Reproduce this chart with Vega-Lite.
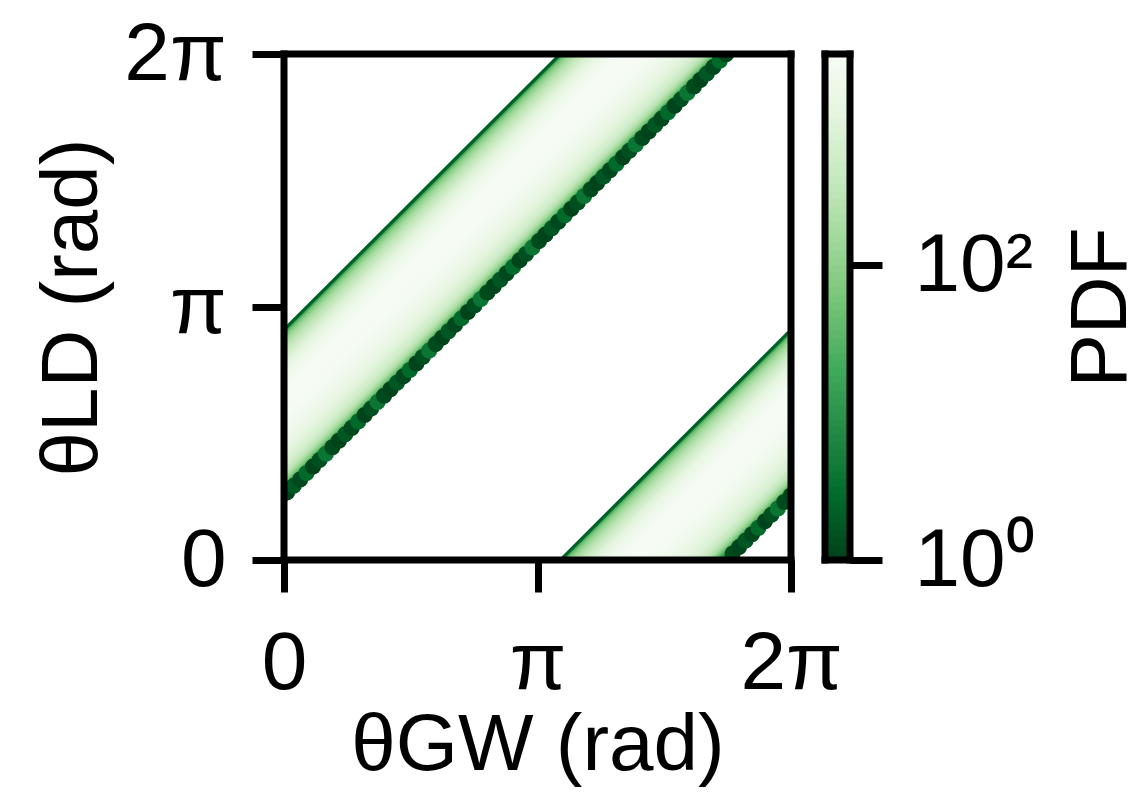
{
  "$schema": "https://vega.github.io/schema/vega-lite/v6.json",
  "autosize": {"type": "pad"},
  "padding": {"left": 32, "top": 13, "right": 0, "bottom": 5},
  "bounds": "flush",
  "spacing": 34,
  "config": {
    "view": {"stroke": null},
    "font": "Liberation Sans",
    "axis": {
      "domain": false, "grid": false,
      "tickColor": "black", "tickWidth": 7, "tickSize": 32,
      "labelColor": "black", "titleColor": "black",
      "labelFont": "Liberation Sans", "titleFont": "Liberation Sans",
      "labelFontSize": 82, "titleFontSize": 80, "titleFontWeight": "normal",
      "labelFlush": false, "labelOverlap": false
    }
  },
  "datasets": {
    "band": [
      {"g0": 0, "l0": 0.72, "g1": 5.5632, "l1": 6.2832, "pdf": 1.0},
      {"g0": 0, "l0": 0.75, "g1": 5.5332, "l1": 6.2832, "pdf": 1.2},
      {"g0": 0, "l0": 0.78, "g1": 5.5032, "l1": 6.2832, "pdf": 1.4},
      {"g0": 0, "l0": 0.81, "g1": 5.4732, "l1": 6.2832, "pdf": 1.8},
      {"g0": 0, "l0": 0.84, "g1": 5.4432, "l1": 6.2832, "pdf": 2.6},
      {"g0": 0, "l0": 0.87, "g1": 5.4132, "l1": 6.2832, "pdf": 4.5},
      {"g0": 0, "l0": 0.90, "g1": 5.3832, "l1": 6.2832, "pdf": 9},
      {"g0": 0, "l0": 0.93, "g1": 5.3532, "l1": 6.2832, "pdf": 20},
      {"g0": 0, "l0": 0.96, "g1": 5.3232, "l1": 6.2832, "pdf": 45},
      {"g0": 0, "l0": 0.99, "g1": 5.2932, "l1": 6.2832, "pdf": 85},
      {"g0": 0, "l0": 1.02, "g1": 5.2632, "l1": 6.2832, "pdf": 145},
      {"g0": 0, "l0": 1.05, "g1": 5.2332, "l1": 6.2832, "pdf": 215},
      {"g0": 0, "l0": 1.08, "g1": 5.2032, "l1": 6.2832, "pdf": 295},
      {"g0": 0, "l0": 1.11, "g1": 5.1732, "l1": 6.2832, "pdf": 375},
      {"g0": 0, "l0": 1.14, "g1": 5.1432, "l1": 6.2832, "pdf": 455},
      {"g0": 0, "l0": 1.17, "g1": 5.1132, "l1": 6.2832, "pdf": 540},
      {"g0": 0, "l0": 1.20, "g1": 5.0832, "l1": 6.2832, "pdf": 620},
      {"g0": 0, "l0": 1.23, "g1": 5.0532, "l1": 6.2832, "pdf": 700},
      {"g0": 0, "l0": 1.26, "g1": 5.0232, "l1": 6.2832, "pdf": 780},
      {"g0": 0, "l0": 1.29, "g1": 4.9932, "l1": 6.2832, "pdf": 860},
      {"g0": 0, "l0": 1.32, "g1": 4.9632, "l1": 6.2832, "pdf": 940},
      {"g0": 0, "l0": 1.35, "g1": 4.9332, "l1": 6.2832, "pdf": 1020},
      {"g0": 0, "l0": 1.38, "g1": 4.9032, "l1": 6.2832, "pdf": 1100},
      {"g0": 0, "l0": 1.41, "g1": 4.8732, "l1": 6.2832, "pdf": 1190},
      {"g0": 0, "l0": 1.44, "g1": 4.8432, "l1": 6.2832, "pdf": 1280},
      {"g0": 0, "l0": 1.47, "g1": 4.8132, "l1": 6.2832, "pdf": 1370},
      {"g0": 0, "l0": 1.50, "g1": 4.7832, "l1": 6.2832, "pdf": 1470},
      {"g0": 0, "l0": 1.53, "g1": 4.7532, "l1": 6.2832, "pdf": 1570},
      {"g0": 0, "l0": 1.56, "g1": 4.7232, "l1": 6.2832, "pdf": 1670},
      {"g0": 0, "l0": 1.59, "g1": 4.6932, "l1": 6.2832, "pdf": 1770},
      {"g0": 0, "l0": 1.62, "g1": 4.6632, "l1": 6.2832, "pdf": 1870},
      {"g0": 0, "l0": 1.65, "g1": 4.6332, "l1": 6.2832, "pdf": 1970},
      {"g0": 0, "l0": 1.68, "g1": 4.6032, "l1": 6.2832, "pdf": 2070},
      {"g0": 0, "l0": 1.71, "g1": 4.5732, "l1": 6.2832, "pdf": 2170},
      {"g0": 0, "l0": 1.74, "g1": 4.5432, "l1": 6.2832, "pdf": 2260},
      {"g0": 0, "l0": 1.77, "g1": 4.5132, "l1": 6.2832, "pdf": 2340},
      {"g0": 0, "l0": 1.80, "g1": 4.4832, "l1": 6.2832, "pdf": 2420},
      {"g0": 0, "l0": 1.83, "g1": 4.4532, "l1": 6.2832, "pdf": 2480},
      {"g0": 0, "l0": 1.86, "g1": 4.4232, "l1": 6.2832, "pdf": 2530},
      {"g0": 0, "l0": 1.89, "g1": 4.3932, "l1": 6.2832, "pdf": 2570},
      {"g0": 0, "l0": 1.92, "g1": 4.3632, "l1": 6.2832, "pdf": 2600},
      {"g0": 0, "l0": 1.95, "g1": 4.3332, "l1": 6.2832, "pdf": 2620},
      {"g0": 0, "l0": 1.98, "g1": 4.3032, "l1": 6.2832, "pdf": 2630},
      {"g0": 0, "l0": 2.01, "g1": 4.2732, "l1": 6.2832, "pdf": 2620},
      {"g0": 0, "l0": 2.04, "g1": 4.2432, "l1": 6.2832, "pdf": 2590},
      {"g0": 0, "l0": 2.07, "g1": 4.2132, "l1": 6.2832, "pdf": 2540},
      {"g0": 0, "l0": 2.10, "g1": 4.1832, "l1": 6.2832, "pdf": 2470},
      {"g0": 0, "l0": 2.13, "g1": 4.1532, "l1": 6.2832, "pdf": 2380},
      {"g0": 0, "l0": 2.16, "g1": 4.1232, "l1": 6.2832, "pdf": 2270},
      {"g0": 0, "l0": 2.19, "g1": 4.0932, "l1": 6.2832, "pdf": 2150},
      {"g0": 0, "l0": 2.22, "g1": 4.0632, "l1": 6.2832, "pdf": 2020},
      {"g0": 0, "l0": 2.25, "g1": 4.0332, "l1": 6.2832, "pdf": 1880},
      {"g0": 0, "l0": 2.28, "g1": 4.0032, "l1": 6.2832, "pdf": 1730},
      {"g0": 0, "l0": 2.31, "g1": 3.9732, "l1": 6.2832, "pdf": 1580},
      {"g0": 0, "l0": 2.34, "g1": 3.9432, "l1": 6.2832, "pdf": 1430},
      {"g0": 0, "l0": 2.37, "g1": 3.9132, "l1": 6.2832, "pdf": 1280},
      {"g0": 0, "l0": 2.40, "g1": 3.8832, "l1": 6.2832, "pdf": 1130},
      {"g0": 0, "l0": 2.43, "g1": 3.8532, "l1": 6.2832, "pdf": 990},
      {"g0": 0, "l0": 2.46, "g1": 3.8232, "l1": 6.2832, "pdf": 860},
      {"g0": 0, "l0": 2.49, "g1": 3.7932, "l1": 6.2832, "pdf": 740},
      {"g0": 0, "l0": 2.52, "g1": 3.7632, "l1": 6.2832, "pdf": 630},
      {"g0": 0, "l0": 2.55, "g1": 3.7332, "l1": 6.2832, "pdf": 530},
      {"g0": 0, "l0": 2.58, "g1": 3.7032, "l1": 6.2832, "pdf": 440},
      {"g0": 0, "l0": 2.61, "g1": 3.6732, "l1": 6.2832, "pdf": 360},
      {"g0": 0, "l0": 2.64, "g1": 3.6432, "l1": 6.2832, "pdf": 290},
      {"g0": 0, "l0": 2.67, "g1": 3.6132, "l1": 6.2832, "pdf": 230},
      {"g0": 0, "l0": 2.70, "g1": 3.5832, "l1": 6.2832, "pdf": 180},
      {"g0": 0, "l0": 2.73, "g1": 3.5532, "l1": 6.2832, "pdf": 135},
      {"g0": 0, "l0": 2.76, "g1": 3.5232, "l1": 6.2832, "pdf": 95},
      {"g0": 0, "l0": 2.79, "g1": 3.4932, "l1": 6.2832, "pdf": 60},
      {"g0": 0, "l0": 2.82, "g1": 3.4632, "l1": 6.2832, "pdf": 30},
      {"g0": 0, "l0": 2.845, "g1": 3.4382, "l1": 6.2832, "pdf": 8},
      {"g0": 0, "l0": 2.86, "g1": 3.4232, "l1": 6.2832, "pdf": 2},
      {"g0": 5.5632, "l0": 0, "g1": 6.2832, "l1": 0.72, "pdf": 1.0},
      {"g0": 5.5332, "l0": 0, "g1": 6.2832, "l1": 0.75, "pdf": 1.2},
      {"g0": 5.5032, "l0": 0, "g1": 6.2832, "l1": 0.78, "pdf": 1.4},
      {"g0": 5.4732, "l0": 0, "g1": 6.2832, "l1": 0.81, "pdf": 1.8},
      {"g0": 5.4432, "l0": 0, "g1": 6.2832, "l1": 0.84, "pdf": 2.6},
      {"g0": 5.4132, "l0": 0, "g1": 6.2832, "l1": 0.87, "pdf": 4.5},
      {"g0": 5.3832, "l0": 0, "g1": 6.2832, "l1": 0.90, "pdf": 9},
      {"g0": 5.3532, "l0": 0, "g1": 6.2832, "l1": 0.93, "pdf": 20},
      {"g0": 5.3232, "l0": 0, "g1": 6.2832, "l1": 0.96, "pdf": 45},
      {"g0": 5.2932, "l0": 0, "g1": 6.2832, "l1": 0.99, "pdf": 85},
      {"g0": 5.2632, "l0": 0, "g1": 6.2832, "l1": 1.02, "pdf": 145},
      {"g0": 5.2332, "l0": 0, "g1": 6.2832, "l1": 1.05, "pdf": 215},
      {"g0": 5.2032, "l0": 0, "g1": 6.2832, "l1": 1.08, "pdf": 295},
      {"g0": 5.1732, "l0": 0, "g1": 6.2832, "l1": 1.11, "pdf": 375},
      {"g0": 5.1432, "l0": 0, "g1": 6.2832, "l1": 1.14, "pdf": 455},
      {"g0": 5.1132, "l0": 0, "g1": 6.2832, "l1": 1.17, "pdf": 540},
      {"g0": 5.0832, "l0": 0, "g1": 6.2832, "l1": 1.20, "pdf": 620},
      {"g0": 5.0532, "l0": 0, "g1": 6.2832, "l1": 1.23, "pdf": 700},
      {"g0": 5.0232, "l0": 0, "g1": 6.2832, "l1": 1.26, "pdf": 780},
      {"g0": 4.9932, "l0": 0, "g1": 6.2832, "l1": 1.29, "pdf": 860},
      {"g0": 4.9632, "l0": 0, "g1": 6.2832, "l1": 1.32, "pdf": 940},
      {"g0": 4.9332, "l0": 0, "g1": 6.2832, "l1": 1.35, "pdf": 1020},
      {"g0": 4.9032, "l0": 0, "g1": 6.2832, "l1": 1.38, "pdf": 1100},
      {"g0": 4.8732, "l0": 0, "g1": 6.2832, "l1": 1.41, "pdf": 1190},
      {"g0": 4.8432, "l0": 0, "g1": 6.2832, "l1": 1.44, "pdf": 1280},
      {"g0": 4.8132, "l0": 0, "g1": 6.2832, "l1": 1.47, "pdf": 1370},
      {"g0": 4.7832, "l0": 0, "g1": 6.2832, "l1": 1.50, "pdf": 1470},
      {"g0": 4.7532, "l0": 0, "g1": 6.2832, "l1": 1.53, "pdf": 1570},
      {"g0": 4.7232, "l0": 0, "g1": 6.2832, "l1": 1.56, "pdf": 1670},
      {"g0": 4.6932, "l0": 0, "g1": 6.2832, "l1": 1.59, "pdf": 1770},
      {"g0": 4.6632, "l0": 0, "g1": 6.2832, "l1": 1.62, "pdf": 1870},
      {"g0": 4.6332, "l0": 0, "g1": 6.2832, "l1": 1.65, "pdf": 1970},
      {"g0": 4.6032, "l0": 0, "g1": 6.2832, "l1": 1.68, "pdf": 2070},
      {"g0": 4.5732, "l0": 0, "g1": 6.2832, "l1": 1.71, "pdf": 2170},
      {"g0": 4.5432, "l0": 0, "g1": 6.2832, "l1": 1.74, "pdf": 2260},
      {"g0": 4.5132, "l0": 0, "g1": 6.2832, "l1": 1.77, "pdf": 2340},
      {"g0": 4.4832, "l0": 0, "g1": 6.2832, "l1": 1.80, "pdf": 2420},
      {"g0": 4.4532, "l0": 0, "g1": 6.2832, "l1": 1.83, "pdf": 2480},
      {"g0": 4.4232, "l0": 0, "g1": 6.2832, "l1": 1.86, "pdf": 2530},
      {"g0": 4.3932, "l0": 0, "g1": 6.2832, "l1": 1.89, "pdf": 2570},
      {"g0": 4.3632, "l0": 0, "g1": 6.2832, "l1": 1.92, "pdf": 2600},
      {"g0": 4.3332, "l0": 0, "g1": 6.2832, "l1": 1.95, "pdf": 2620},
      {"g0": 4.3032, "l0": 0, "g1": 6.2832, "l1": 1.98, "pdf": 2630},
      {"g0": 4.2732, "l0": 0, "g1": 6.2832, "l1": 2.01, "pdf": 2620},
      {"g0": 4.2432, "l0": 0, "g1": 6.2832, "l1": 2.04, "pdf": 2590},
      {"g0": 4.2132, "l0": 0, "g1": 6.2832, "l1": 2.07, "pdf": 2540},
      {"g0": 4.1832, "l0": 0, "g1": 6.2832, "l1": 2.10, "pdf": 2470},
      {"g0": 4.1532, "l0": 0, "g1": 6.2832, "l1": 2.13, "pdf": 2380},
      {"g0": 4.1232, "l0": 0, "g1": 6.2832, "l1": 2.16, "pdf": 2270},
      {"g0": 4.0932, "l0": 0, "g1": 6.2832, "l1": 2.19, "pdf": 2150},
      {"g0": 4.0632, "l0": 0, "g1": 6.2832, "l1": 2.22, "pdf": 2020},
      {"g0": 4.0332, "l0": 0, "g1": 6.2832, "l1": 2.25, "pdf": 1880},
      {"g0": 4.0032, "l0": 0, "g1": 6.2832, "l1": 2.28, "pdf": 1730},
      {"g0": 3.9732, "l0": 0, "g1": 6.2832, "l1": 2.31, "pdf": 1580},
      {"g0": 3.9432, "l0": 0, "g1": 6.2832, "l1": 2.34, "pdf": 1430},
      {"g0": 3.9132, "l0": 0, "g1": 6.2832, "l1": 2.37, "pdf": 1280},
      {"g0": 3.8832, "l0": 0, "g1": 6.2832, "l1": 2.40, "pdf": 1130},
      {"g0": 3.8532, "l0": 0, "g1": 6.2832, "l1": 2.43, "pdf": 990},
      {"g0": 3.8232, "l0": 0, "g1": 6.2832, "l1": 2.46, "pdf": 860},
      {"g0": 3.7932, "l0": 0, "g1": 6.2832, "l1": 2.49, "pdf": 740},
      {"g0": 3.7632, "l0": 0, "g1": 6.2832, "l1": 2.52, "pdf": 630},
      {"g0": 3.7332, "l0": 0, "g1": 6.2832, "l1": 2.55, "pdf": 530},
      {"g0": 3.7032, "l0": 0, "g1": 6.2832, "l1": 2.58, "pdf": 440},
      {"g0": 3.6732, "l0": 0, "g1": 6.2832, "l1": 2.61, "pdf": 360},
      {"g0": 3.6432, "l0": 0, "g1": 6.2832, "l1": 2.64, "pdf": 290},
      {"g0": 3.6132, "l0": 0, "g1": 6.2832, "l1": 2.67, "pdf": 230},
      {"g0": 3.5832, "l0": 0, "g1": 6.2832, "l1": 2.70, "pdf": 180},
      {"g0": 3.5532, "l0": 0, "g1": 6.2832, "l1": 2.73, "pdf": 135},
      {"g0": 3.5232, "l0": 0, "g1": 6.2832, "l1": 2.76, "pdf": 95},
      {"g0": 3.4932, "l0": 0, "g1": 6.2832, "l1": 2.79, "pdf": 60},
      {"g0": 3.4632, "l0": 0, "g1": 6.2832, "l1": 2.82, "pdf": 30},
      {"g0": 3.4382, "l0": 0, "g1": 6.2832, "l1": 2.845, "pdf": 8},
      {"g0": 3.4232, "l0": 0, "g1": 6.2832, "l1": 2.86, "pdf": 2}
    ],
    "edge": [
      {"gw": 0.04, "ld": 0.84, "pdf": 1}, {"gw": 0.12, "ld": 0.92, "pdf": 1.6}, {"gw": 0.20, "ld": 1.00, "pdf": 1.1}, {"gw": 0.28, "ld": 1.08, "pdf": 2.5},
      {"gw": 0.36, "ld": 1.16, "pdf": 1}, {"gw": 0.44, "ld": 1.24, "pdf": 1.3}, {"gw": 0.52, "ld": 1.32, "pdf": 3.5}, {"gw": 0.60, "ld": 1.40, "pdf": 1.2},
      {"gw": 0.68, "ld": 1.48, "pdf": 1}, {"gw": 0.76, "ld": 1.56, "pdf": 1.6}, {"gw": 0.84, "ld": 1.64, "pdf": 1.1}, {"gw": 0.92, "ld": 1.72, "pdf": 2.5},
      {"gw": 1.00, "ld": 1.80, "pdf": 1}, {"gw": 1.08, "ld": 1.88, "pdf": 1.3}, {"gw": 1.16, "ld": 1.96, "pdf": 3.5}, {"gw": 1.24, "ld": 2.04, "pdf": 1.2},
      {"gw": 1.32, "ld": 2.12, "pdf": 1}, {"gw": 1.40, "ld": 2.20, "pdf": 1.6}, {"gw": 1.48, "ld": 2.28, "pdf": 1.1}, {"gw": 1.56, "ld": 2.36, "pdf": 2.5},
      {"gw": 1.64, "ld": 2.44, "pdf": 1}, {"gw": 1.72, "ld": 2.52, "pdf": 1.3}, {"gw": 1.80, "ld": 2.60, "pdf": 3.5}, {"gw": 1.88, "ld": 2.68, "pdf": 1.2},
      {"gw": 1.96, "ld": 2.76, "pdf": 1}, {"gw": 2.04, "ld": 2.84, "pdf": 1.6}, {"gw": 2.12, "ld": 2.92, "pdf": 1.1}, {"gw": 2.20, "ld": 3.00, "pdf": 2.5},
      {"gw": 2.28, "ld": 3.08, "pdf": 1}, {"gw": 2.36, "ld": 3.16, "pdf": 1.3}, {"gw": 2.44, "ld": 3.24, "pdf": 3.5}, {"gw": 2.52, "ld": 3.32, "pdf": 1.2},
      {"gw": 2.60, "ld": 3.40, "pdf": 1}, {"gw": 2.68, "ld": 3.48, "pdf": 1.6}, {"gw": 2.76, "ld": 3.56, "pdf": 1.1}, {"gw": 2.84, "ld": 3.64, "pdf": 2.5},
      {"gw": 2.92, "ld": 3.72, "pdf": 1}, {"gw": 3.00, "ld": 3.80, "pdf": 1.3}, {"gw": 3.08, "ld": 3.88, "pdf": 3.5}, {"gw": 3.16, "ld": 3.96, "pdf": 1.2},
      {"gw": 3.24, "ld": 4.04, "pdf": 1}, {"gw": 3.32, "ld": 4.12, "pdf": 1.6}, {"gw": 3.40, "ld": 4.20, "pdf": 1.1}, {"gw": 3.48, "ld": 4.28, "pdf": 2.5},
      {"gw": 3.56, "ld": 4.36, "pdf": 1}, {"gw": 3.64, "ld": 4.44, "pdf": 1.3}, {"gw": 3.72, "ld": 4.52, "pdf": 3.5}, {"gw": 3.80, "ld": 4.60, "pdf": 1.2},
      {"gw": 3.88, "ld": 4.68, "pdf": 1}, {"gw": 3.96, "ld": 4.76, "pdf": 1.6}, {"gw": 4.04, "ld": 4.84, "pdf": 1.1}, {"gw": 4.12, "ld": 4.92, "pdf": 2.5},
      {"gw": 4.20, "ld": 5.00, "pdf": 1}, {"gw": 4.28, "ld": 5.08, "pdf": 1.3}, {"gw": 4.36, "ld": 5.16, "pdf": 3.5}, {"gw": 4.44, "ld": 5.24, "pdf": 1.2},
      {"gw": 4.52, "ld": 5.32, "pdf": 1}, {"gw": 4.60, "ld": 5.40, "pdf": 1.6}, {"gw": 4.68, "ld": 5.48, "pdf": 1.1}, {"gw": 4.76, "ld": 5.56, "pdf": 2.5},
      {"gw": 4.84, "ld": 5.64, "pdf": 1}, {"gw": 4.92, "ld": 5.72, "pdf": 1.3}, {"gw": 5.00, "ld": 5.80, "pdf": 3.5}, {"gw": 5.08, "ld": 5.88, "pdf": 1.2},
      {"gw": 5.16, "ld": 5.96, "pdf": 1}, {"gw": 5.24, "ld": 6.04, "pdf": 1.6}, {"gw": 5.32, "ld": 6.12, "pdf": 1.1}, {"gw": 5.40, "ld": 6.20, "pdf": 2.5},
      {"gw": 5.48, "ld": 6.28, "pdf": 1}, {"gw": 5.56, "ld": 6.36, "pdf": 1.3},
      {"gw": 5.56, "ld": 0.08, "pdf": 1.2}, {"gw": 5.64, "ld": 0.16, "pdf": 1}, {"gw": 5.72, "ld": 0.24, "pdf": 1.6}, {"gw": 5.80, "ld": 0.32, "pdf": 1.1},
      {"gw": 5.88, "ld": 0.40, "pdf": 2.5}, {"gw": 5.96, "ld": 0.48, "pdf": 1}, {"gw": 6.04, "ld": 0.56, "pdf": 1.3}, {"gw": 6.12, "ld": 0.64, "pdf": 3.5},
      {"gw": 6.20, "ld": 0.72, "pdf": 1.2}, {"gw": 6.28, "ld": 0.80, "pdf": 1}
    ],
    "cbar": [
      {"lo": 1, "hi": 1.259}, {"lo": 1.122, "hi": 1.413}, {"lo": 1.259, "hi": 1.585}, {"lo": 1.413, "hi": 1.778}, {"lo": 1.585, "hi": 1.995},
      {"lo": 1.778, "hi": 2.239}, {"lo": 1.995, "hi": 2.512}, {"lo": 2.239, "hi": 2.818}, {"lo": 2.512, "hi": 3.162}, {"lo": 2.818, "hi": 3.548},
      {"lo": 3.162, "hi": 3.981}, {"lo": 3.548, "hi": 4.467}, {"lo": 3.981, "hi": 5.012}, {"lo": 4.467, "hi": 5.623}, {"lo": 5.012, "hi": 6.31},
      {"lo": 5.623, "hi": 7.079}, {"lo": 6.31, "hi": 7.943}, {"lo": 7.079, "hi": 8.913}, {"lo": 7.943, "hi": 10}, {"lo": 8.913, "hi": 11.22},
      {"lo": 10, "hi": 12.59}, {"lo": 11.22, "hi": 14.13}, {"lo": 12.59, "hi": 15.85}, {"lo": 14.13, "hi": 17.78}, {"lo": 15.85, "hi": 19.95},
      {"lo": 17.78, "hi": 22.39}, {"lo": 19.95, "hi": 25.12}, {"lo": 22.39, "hi": 28.18}, {"lo": 25.12, "hi": 31.62}, {"lo": 28.18, "hi": 35.48},
      {"lo": 31.62, "hi": 39.81}, {"lo": 35.48, "hi": 44.67}, {"lo": 39.81, "hi": 50.12}, {"lo": 44.67, "hi": 56.23}, {"lo": 50.12, "hi": 63.1},
      {"lo": 56.23, "hi": 70.79}, {"lo": 63.1, "hi": 79.43}, {"lo": 70.79, "hi": 89.13}, {"lo": 79.43, "hi": 100}, {"lo": 89.13, "hi": 112.2},
      {"lo": 100, "hi": 125.9}, {"lo": 112.2, "hi": 141.3}, {"lo": 125.9, "hi": 158.5}, {"lo": 141.3, "hi": 177.8}, {"lo": 158.5, "hi": 199.5},
      {"lo": 177.8, "hi": 223.9}, {"lo": 199.5, "hi": 251.2}, {"lo": 223.9, "hi": 281.8}, {"lo": 251.2, "hi": 316.2}, {"lo": 281.8, "hi": 354.8},
      {"lo": 316.2, "hi": 398.1}, {"lo": 354.8, "hi": 446.7}, {"lo": 398.1, "hi": 501.2}, {"lo": 446.7, "hi": 562.3}, {"lo": 501.2, "hi": 631},
      {"lo": 562.3, "hi": 707.9}, {"lo": 631, "hi": 794.3}, {"lo": 707.9, "hi": 891.3}, {"lo": 794.3, "hi": 1000}, {"lo": 891.3, "hi": 1122},
      {"lo": 1000, "hi": 1259}, {"lo": 1122, "hi": 1413}, {"lo": 1259, "hi": 1585}, {"lo": 1413, "hi": 1778}, {"lo": 1585, "hi": 1995},
      {"lo": 1778, "hi": 2239}, {"lo": 1995, "hi": 2512}, {"lo": 2239, "hi": 2716}, {"lo": 2512, "hi": 2716}
    ]
  },
  "hconcat": [
    {
      "width": 507,
      "height": 506,
      "layer": [
        {
          "data": {"name": "band"},
          "mark": {"type": "rule", "strokeWidth": 3, "strokeCap": "square", "clip": true},
          "encoding": {
            "x": {"field": "g0", "type": "quantitative",
                  "scale": {"domain": [0, 6.2832], "nice": false, "zero": false},
                  "axis": {"values": [0, 3.1416, 6.2832],
                           "labelExpr": "datum.value < 1 ? '0' : (datum.value < 4 ? 'π' : '2π')",
                           "labelPadding": 31, "title": "θGW (rad)", "titlePadding": 2}},
            "y": {"field": "l0", "type": "quantitative",
                  "scale": {"domain": [0, 6.2832], "nice": false, "zero": false},
                  "axis": {"values": [0, 3.1416, 6.2832],
                           "labelExpr": "datum.value < 1 ? '0' : (datum.value < 4 ? 'π' : '2π')",
                           "labelPadding": 26, "title": "θLD (rad)", "titlePadding": 10}},
            "x2": {"field": "g1"},
            "y2": {"field": "l1"},
            "color": {"field": "pdf", "type": "quantitative",
                      "scale": {"type": "log",
                                "domain": [1, 2.686, 7.22, 19.4, 52.1, 140, 376.7, 1012, 2716],
                                "range": ["#00441b", "#006d2c", "#238b45", "#41ab5d", "#74c476", "#a1d99b", "#c7e9c0", "#e5f5e0", "#f7fcf5"]},
                      "legend": null}
          }
        },
        {
          "data": {"name": "edge"},
          "mark": {"type": "circle", "size": 260, "opacity": 1, "clip": true},
          "encoding": {
            "x": {"field": "gw", "type": "quantitative", "title": "θGW (rad)"},
            "y": {"field": "ld", "type": "quantitative", "title": "θLD (rad)"},
            "color": {"field": "pdf", "type": "quantitative", "legend": null}
          }
        },
        {
          "data": {"values": [{"v": 0}, {"v": 6.2832}]},
          "mark": {"type": "rule", "strokeWidth": 7, "strokeCap": "square", "color": "black"},
          "encoding": {"x": {"field": "v", "type": "quantitative", "title": "θGW (rad)"}}
        },
        {
          "data": {"values": [{"v": 0}, {"v": 6.2832}]},
          "mark": {"type": "rule", "strokeWidth": 7, "strokeCap": "square", "color": "black"},
          "encoding": {"y": {"field": "v", "type": "quantitative", "title": "θLD (rad)"}}
        }
      ]
    },
    {
      "width": 25,
      "height": 506,
      "layer": [
        {
          "data": {"name": "cbar"},
          "mark": {"type": "rect"},
          "encoding": {
            "y": {"field": "lo", "type": "quantitative",
                  "scale": {"type": "log", "domain": [1, 2716], "nice": false},
                  "axis": {"orient": "right", "values": [1, 100],
                           "labelExpr": "datum.value < 10 ? '10⁰' : '10²'",
                           "labelPadding": 32, "title": "PDF", "titleAngle": 270,
                           "titleBaseline": "top", "titlePadding": 28}},
            "y2": {"field": "hi"},
            "color": {"field": "lo", "type": "quantitative",
                      "scale": {"type": "log",
                                "domain": [1, 2.686, 7.22, 19.4, 52.1, 140, 376.7, 1012, 2716],
                                "range": ["#00441b", "#006d2c", "#238b45", "#41ab5d", "#74c476", "#a1d99b", "#c7e9c0", "#e5f5e0", "#f7fcf5"]},
                      "legend": null}
          }
        },
        {
          "data": {"values": [{"v": 0}, {"v": 1}]},
          "mark": {"type": "rule", "strokeWidth": 7, "strokeCap": "square", "color": "black"},
          "encoding": {"x": {"field": "v", "type": "quantitative", "axis": null, "scale": {"domain": [0, 1], "nice": false, "zero": false}}}
        },
        {
          "data": {"values": [{"v": 1}, {"v": 2716}]},
          "mark": {"type": "rule", "strokeWidth": 7, "strokeCap": "square", "color": "black"},
          "encoding": {"y": {"field": "v", "type": "quantitative", "title": "PDF"}}
        }
      ]
    }
  ]
}
